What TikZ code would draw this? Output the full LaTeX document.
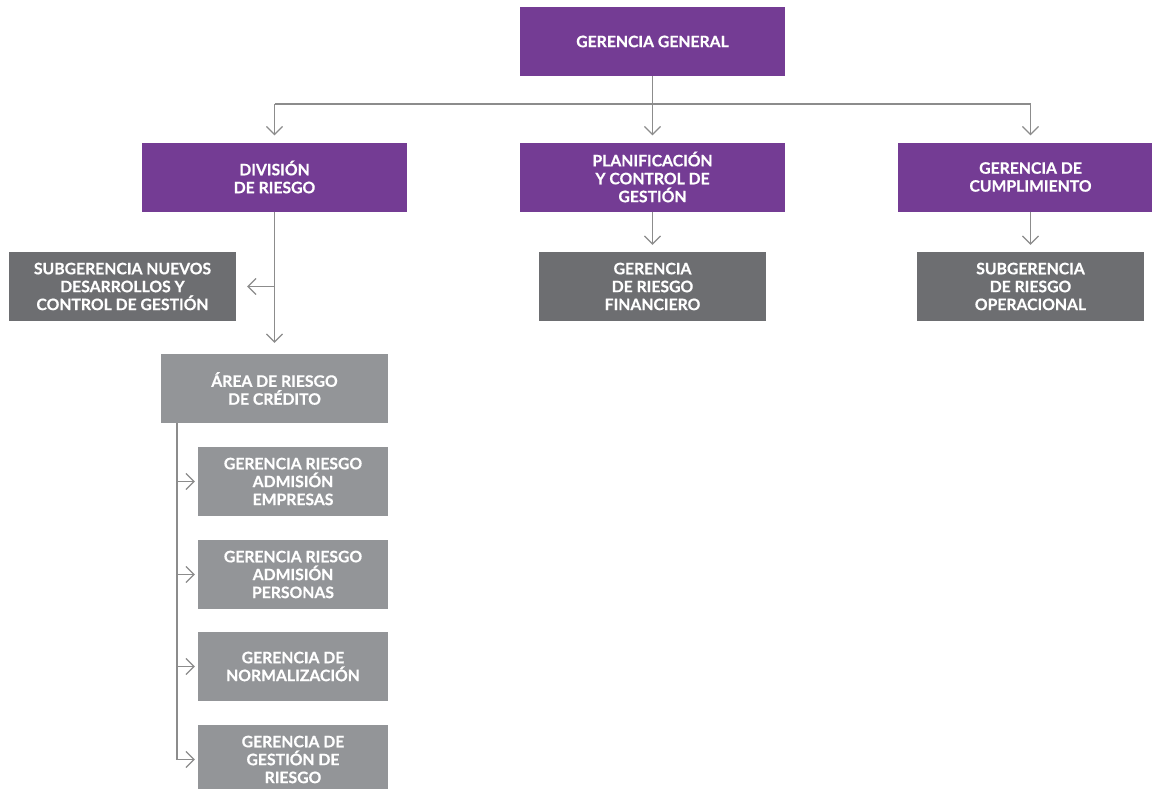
\documentclass[tikz,border=0pt]{standalone}
\usepackage{fontspec}
\setmainfont{Lato}[BoldFeatures={FakeBold=0.6}]
\usetikzlibrary{arrows.meta}
\definecolor{MyPurple}{HTML}{743C94}
\definecolor{MyDark}{HTML}{6D6E71}
\definecolor{MyGray}{HTML}{939598}
\definecolor{MyLine}{HTML}{8C8C8C}

\tikzset{
  box/.style={text=white, font=\bfseries\fontsize{15.8}{18}\selectfont, align=center, inner sep=0pt},
  mgmtbox/.style={box, fill=MyPurple, minimum width=265bp, minimum height=69bp},
  subbox/.style={box, fill=MyDark, minimum width=227bp, minimum height=69bp},
  areabox/.style={box, fill=MyGray, minimum width=227bp, minimum height=69bp},
  deptbox/.style={box, fill=MyGray, minimum width=190bp, minimum height=69bp},
  link/.style={draw=MyLine, line width=1.2bp},
  arr/.style={link, -{Straight Barb[length=8bp,width=16bp]}},
}

\begin{document}
\begin{tikzpicture}[x=1bp,y=-1bp]
        \clip (0,0) rectangle (1152,789);
        \fill[white] (0,0) rectangle (1152,789);

        % top level
        \node[mgmtbox] (gg) at (652.5,41.5) {GERENCIA GENERAL};

        \node[mgmtbox] (div) at (274.5,177) {DIVISIÓN\\DE RIESGO};
        \node[mgmtbox] (plan) at (652.5,177) {PLANIFICACIÓN\\Y CONTROL DE\\GESTIÓN};
        \node[mgmtbox] (cump) at (1030.5,177) {GERENCIA DE\\CUMPLIMIENTO};

        \node[subbox] (subnd) at (122.5,286.5) {SUBGERENCIA NUEVOS\\DESARROLLOS Y\\CONTROL DE GESTIÓN};
        \node[subbox] (finan) at (652.5,286.5) {GERENCIA\\DE RIESGO\\FINANCIERO};
        \node[subbox] (subop) at (1030.5,286.5) {SUBGERENCIA\\DE RIESGO\\OPERACIONAL};

        \node[areabox] (area) at (274.5,388.5) {ÁREA DE RIESGO\\DE CRÉDITO};

        \node[deptbox] (empr) at (293,481.5) {GERENCIA RIESGO\\ADMISIÓN\\EMPRESAS};
        \node[deptbox] (pers) at (293,574.5) {GERENCIA RIESGO\\ADMISIÓN\\PERSONAS};
        \node[deptbox] (norm) at (293,666.5) {GERENCIA DE\\NORMALIZACIÓN};
        \node[deptbox] (gest) at (293,759.5) {GERENCIA DE\\GESTIÓN DE\\RIESGO};

        % connectors
        \coordinate (top) at (652.5,104);
        \coordinate (topL) at (274.5,104);
        \coordinate (topR) at (1030.5,104);
        \draw[link] (gg.south) -- (top);
        \draw[link] (topL) -- (topR);
        \draw[arr, shorten >=7bp] (topL) -- (div.north);
        \draw[arr, shorten >=7bp] (top) -- (plan.north);
        \draw[arr, shorten >=7bp] (topR) -- (cump.north);

        \draw[arr, shorten >=7bp] (plan.south) -- (finan.north);
        \draw[arr, shorten >=7bp] (cump.south) -- (subop.north);

        \coordinate (divB) at (274.5,286.5);
        \draw[link] (div.south) -- (divB);
        \draw[arr, shorten >=11bp] (divB) -- (subnd.east);
        \draw[arr, shorten >=11bp] (divB) -- (area.north);

        \coordinate (areaL) at (177,423);
        \draw[link] (areaL) -- (areaL |- gest.west);
        \foreach \d in {empr,pers,norm,gest}
            \draw[arr, shorten >=3bp] (areaL |- \d.west) -- (\d.west);
\end{tikzpicture}
\end{document}
